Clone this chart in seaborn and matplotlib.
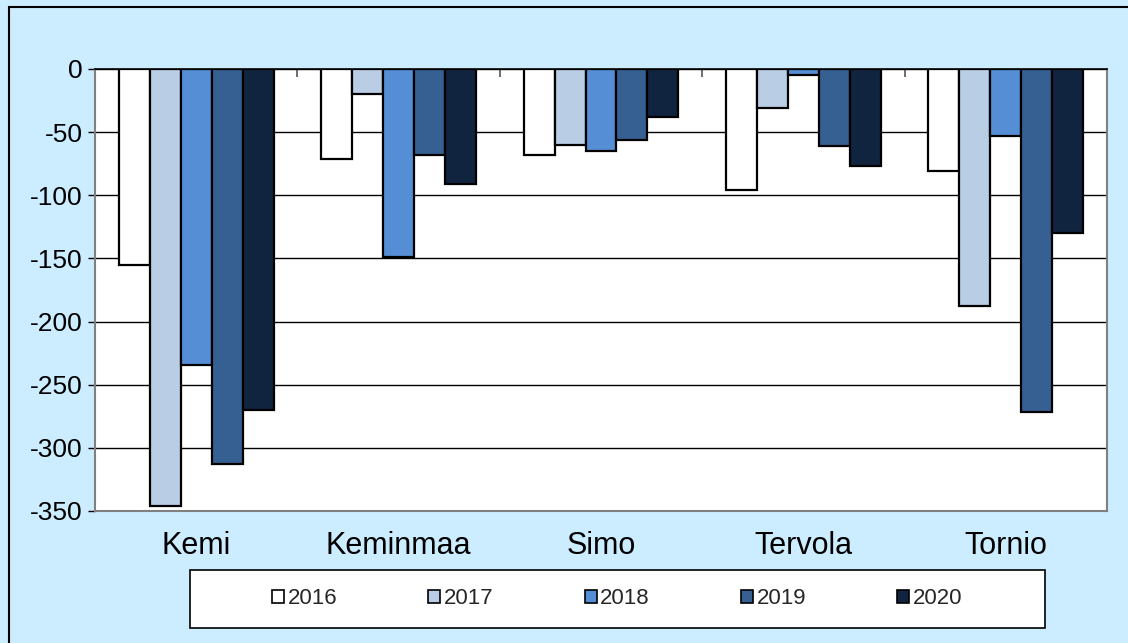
import pandas as pd
import seaborn as sns
import matplotlib.pyplot as plt
from matplotlib.patches import Rectangle

municipalities = ['Kemi', 'Keminmaa', 'Simo', 'Tervola', 'Tornio']
years = ['2016', '2017', '2018', '2019', '2020']
v2016 = [-155, -71, -68, -96, -81]
v2017 = [-346, -20, -60, -31, -188]
v2018 = [-234, -149, -65, -5, -53]
v2019 = [-313, -68, -56, -61, -272]
v2020 = [-270, -91, -38, -77, -130]
colors = ['#FFFFFF', '#B9CDE5', '#558ED5', '#366092', '#10243F']

rows = []
for year, vals in zip(years, [v2016, v2017, v2018, v2019, v2020]):
    for m, v in zip(municipalities, vals):
        rows.append({'Kunta': m, 'Vuosi': year, 'Muutos': v})
df = pd.DataFrame(rows)

sns.set_style('white')
plt.rcParams['font.family'] = ['Liberation Sans', 'DejaVu Sans']
plt.rcParams['axes.unicode_minus'] = False

W, H = 1128, 643
fig = plt.figure(figsize=(W / 100, H / 100), dpi=100, facecolor='#CCECFF')

# outer chart frame
fig.patches.append(Rectangle((9 / W, -0.1), 1.2, 1 - 7 / H + 0.1, transform=fig.transFigure,
                             facecolor='none', edgecolor='black', linewidth=1.5, zorder=0))

ax = fig.add_axes([95 / W, 1 - 511 / H, (1107 - 95) / W, (511 - 69) / H])
ax.set_facecolor('white')

sns.barplot(data=df, x='Kunta', y='Muutos', hue='Vuosi', palette=colors, saturation=1,
            edgecolor='black', linewidth=1.6, width=0.765, gap=0, ax=ax, legend=False)

ax.set_ylim(-350, 0)
ax.set_xlim(-0.5, 4.5)
ax.set_yticks(range(-350, 1, 50))
ax.yaxis.grid(True, color='black', linewidth=1)
ax.set_axisbelow(True)
ax.set_xlabel('')
ax.set_ylabel('')

ax.tick_params(axis='y', left=True, direction='out', length=5, width=1, color='black',
               labelsize=19, pad=4)
ax.tick_params(axis='x', bottom=False, labelsize=22, pad=11)
for lab in ax.get_yticklabels() + ax.get_xticklabels():
    lab.set_color('black')

# category boundary ticks on the zero line
ax.set_xticks([-0.5, 0.5, 1.5, 2.5, 3.5, 4.5], minor=True)
ax.tick_params(axis='x', which='minor', top=True, bottom=False, direction='in',
               length=6, width=1.2, color='#555555')

for side in ['left', 'right', 'bottom']:
    ax.spines[side].set_color('#808080')
    ax.spines[side].set_linewidth(1.5)
ax.spines['top'].set_color('black')
ax.spines['top'].set_linewidth(1.2)

# legend box
fig.patches.append(Rectangle((190 / W, 1 - 628 / H), (1045 - 190) / W, (628 - 570) / H,
                             transform=fig.transFigure, facecolor='white',
                             edgecolor='black', linewidth=1.2, zorder=1))
handles = [Rectangle((0, 0), 1, 1, facecolor=c, edgecolor='black', linewidth=1.2) for c in colors]
fig.legend(handles, years, loc='center', bbox_to_anchor=(617 / W, 1 - 599 / H),
           ncol=5, frameon=False, fontsize=16, handlelength=0.55, handleheight=0.55,
           handletextpad=0.15, columnspacing=4.1)

fig.savefig('out.png', dpi=100, facecolor=fig.get_facecolor())
